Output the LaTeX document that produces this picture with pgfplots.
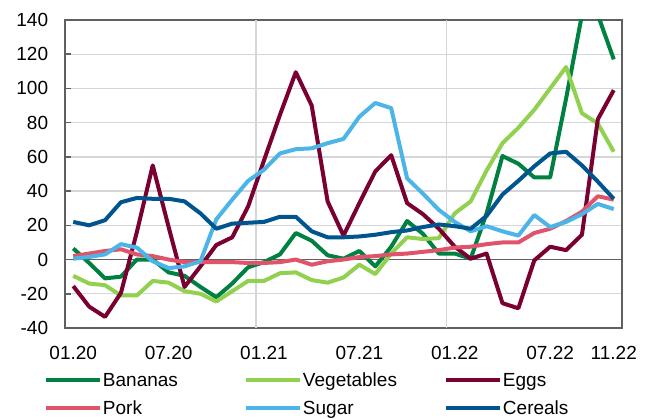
\documentclass[border=0pt]{standalone}
\usepackage{pgfplots}
\pgfplotsset{compat=1.18}
\usepackage{pgfplotstable}
\usepackage{fontspec}
\setmainfont{Liberation Sans}
\definecolor{cBan}{RGB}{0,129,66}
\definecolor{cVeg}{RGB}{146,208,80}
\definecolor{cEgg}{RGB}{122,0,50}
\definecolor{cPork}{RGB}{224,84,107}
\definecolor{cSug}{RGB}{76,181,232}
\definecolor{cCer}{RGB}{0,85,143}
\definecolor{axgray}{RGB}{96,96,96}
\definecolor{gridgray}{RGB}{212,214,218}
\pgfplotstableread{
i ban veg egg pork sug cer
0 6.5 -9.5 -15.5 2 0.5 22
1 -2 -14 -27.5 3.5 1.5 20
2 -11 -15 -33.5 5 3 23
3 -10 -21 -19.5 6 9 33.5
4 0 -21 16 3 7 36
5 0 -12.5 55 2 -1 35.5
6 -7.5 -13.5 19 0 -5 35.5
7 -9.5 -18.5 -16 -1.5 -4 34
8 -16 -20 -4 -1.5 -1 27
9 -22 -24.5 8.5 -1.5 23.5 18
10 -14 -18.5 13 -1.5 35 21
11 -4.5 -12.5 31 -2 46 21.5
12 -1.5 -12.5 58 -2 52.5 22
13 3 -8 84.5 -1.5 62 25
14 15.5 -7.5 109.5 0 64.5 25
15 11 -12 90 -3 65 16.5
16 2.5 -13.5 34 -1 68 13
17 0.5 -10.5 14 0 70.5 13
18 5 -3 33 1.5 83.5 13.5
19 -4 -8.5 51.5 2 91.5 14.5
20 7.5 3.5 61 3 88.5 16
21 22.5 13 33 3.5 47.5 17
22 15 12 26.5 4.5 38.5 19
23 3.5 12.5 18 5.5 29 20.5
24 3.5 27 7.5 7 22 19.5
25 0.5 34 0.5 7.5 16.5 18
26 27 52 3.5 9 19.5 25.5
27 60.5 68 -25.5 10 16.5 38
28 56 77 -28.5 10 14 46
29 48 87.5 -0.5 15.5 26 54.5
30 48 100 7.5 18 19 62
31 94 112.5 5.5 22.5 22 63
32 143 85.5 14.5 28 26.5 55
33 143 79.5 82 37 32.5 45.5
34 117 63 99 35 29.5 35.5
}\datatable
\begin{document}
\begin{tikzpicture}
\path[use as bounding box] (-65.3pt,-91pt) rectangle (585.7pt,328pt);
\begin{axis}[
  at={(0pt,0pt)}, anchor=south west,
  scale only axis, width=556.4pt, height=308pt,
  xmin=-0.5, xmax=34.5, ymin=-40, ymax=140,
  xtick={0,6,12,18,24,30,34},
  xticklabels={01.20,07.20,01.21,07.21,01.22,07.22,11.22},
  ytick={-40,-20,0,20,40,60,80,100,120,140},
  yticklabels={-40,-20,0,20,40,60,80,100,120,140},
  ticklabel style={font=\fontsize{19}{22}\selectfont},
  yticklabel style={anchor=east, inner sep=0pt, xshift=-17pt},
  xticklabel style={anchor=north, inner sep=0pt, yshift=-18pt},
  x tick style={draw=none},
  y tick style={draw=axgray, line width=1.5pt},
  tick align=inside, major tick length=6pt,
  ytick pos=left,
  ymajorgrids,
  major grid style={draw=gridgray, line width=1.3pt},
  extra x ticks={11.5,23.5}, extra x tick labels={},
  extra x tick style={xmajorgrids=true, major tick length=0pt},
  extra y ticks={0}, extra y tick labels={},
  extra y tick style={ymajorgrids=true, major grid style={draw=axgray, line width=1.5pt}},
  axis line style={draw=axgray, line width=2pt},
  clip=true,
  every axis plot/.append style={line width=4pt, line join=round, mark=none},
  legend columns=3,
  legend image code/.code={\path (0pt,0pt) -- (54pt,0pt); \draw[#1, line cap=round] (2pt,0pt) -- (52pt,0pt);},
  legend style={at={(axis description cs:0,0)}, anchor=north west, xshift=-21.3pt, yshift=-42.8pt,
    draw=none, fill=none, inner sep=0pt, outer sep=0pt, row sep=9.6pt,
    font=\fontsize{19}{22}\selectfont,
    cells={anchor=west},
    nodes={inner sep=0pt, text width=127pt, align=left, text height=16pt, text depth=2.4pt},
    /tikz/every odd column/.append style={column sep=1pt},
    /tikz/every even column/.append style={column sep=14pt}},
]
\addplot[color=cBan] table[x=i, y=ban] {\datatable};
\addlegendentry{Bananas}
\addplot[color=cVeg] table[x=i, y=veg] {\datatable};
\addlegendentry{Vegetables}
\addplot[color=cEgg] table[x=i, y=egg] {\datatable};
\addlegendentry{Eggs}
\addplot[color=cPork] table[x=i, y=pork] {\datatable};
\addlegendentry{Pork}
\addplot[color=cSug] table[x=i, y=sug] {\datatable};
\addlegendentry{Sugar}
\addplot[color=cCer] table[x=i, y=cer] {\datatable};
\addlegendentry{Cereals}
\end{axis}
\end{tikzpicture}
\end{document}
